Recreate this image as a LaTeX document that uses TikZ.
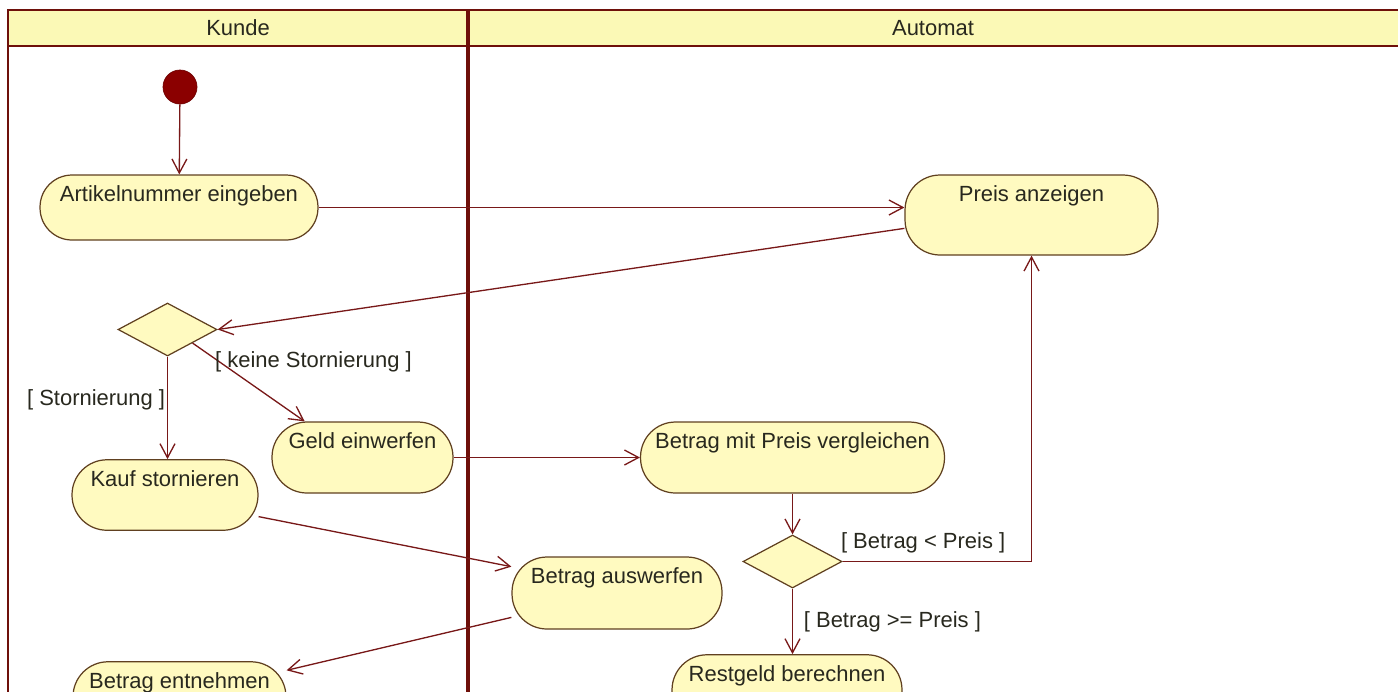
\documentclass[tikz,border=0pt]{standalone}
\usepackage{fontspec}
\setmainfont{Liberation Sans}
\usetikzlibrary{shapes.geometric,arrows.meta}
\definecolor{gelb}{RGB}{255,250,192}
\definecolor{kopfgelb}{RGB}{251,249,182}
\definecolor{rand}{RGB}{96,64,32}
\definecolor{linie}{RGB}{120,24,24}
\definecolor{bahnrot}{RGB}{110,16,10}
\definecolor{punkt}{RGB}{139,0,0}
\definecolor{schrift}{RGB}{40,40,30}
\begin{document}
\begin{tikzpicture}[x=0.02cm, y=-0.02cm,
    every node/.style={font=\fontsize{12.5}{15}\selectfont, text=schrift},
    aktion/.style={rectangle, rounded corners=0.7cm, draw=rand, fill=gelb,
        line width=0.7pt, inner xsep=0pt, inner ysep=0pt,
        text height=0.53cm, text depth=0.88cm},
    raute/.style={diamond, draw=rand, fill=gelb, line width=0.7pt,
        inner sep=0pt, minimum width=1.98cm, minimum height=1.06cm},
    anfang/.style={circle, fill=punkt, draw=punkt!80!black,
        minimum size=0.68cm, inner sep=0pt},
    pfeil/.style={draw=linie, line width=0.75pt,
        -{Straight Barb[length=8pt,width=8.5pt]}},
    waechter/.style={inner sep=1pt},
    bahn/.style={draw=bahnrot, line width=1.6pt},
    ]
    \useasboundingbox (0,0) rectangle (1398,691);
    \clip (0,0) rectangle (1398,691);
    % swimlanes
    \fill[kopfgelb] (8,10) rectangle (1410,46);
    \draw[bahn] (1410,10) -- (8,10) -- (8,700);
    \draw[bahn] (8,46) -- (1410,46);
    \draw[bahn, line width=2.4pt] (468,10) -- (468,700);
    \node (kunde) at (238,28) {Kunde};
    \node (automat) at (933,28) {Automat};
    % activities
    \node[anfang] (start) at (180,87) {};
    \node[aktion, minimum width=5.56cm, text depth=0.77cm, rounded corners=0.64cm] (artikel) at (179,207.5) {Artikelnummer eingeben};
    \node[aktion, minimum width=5.06cm, text depth=1.07cm] (preis) at (1031.5,215) {Preis anzeigen};
    \node[raute] (d1) at (167.5,329.5) {};
    \node[aktion, minimum width=3.72cm] (kauf) at (165,495) {Kauf stornieren};
    \node[aktion, minimum width=3.62cm, text depth=0.89cm] (geld) at (362.5,457.5) {Geld einwerfen};
    \node[aktion, minimum width=6.08cm, text depth=0.89cm] (vergl) at (792.5,457.5) {Betrag mit Preis vergleichen};
    \node[raute] (d2) at (792.5,561.5) {};
    \node[aktion, minimum width=4.2cm, text depth=0.91cm] (ausw) at (617,593) {Betrag auswerfen};
    \node[aktion, minimum width=4.26cm] (entn) at (179.5,697) {Betrag entnehmen};
    \node[aktion, minimum width=4.6cm] (rest) at (787,690) {Restgeld berechnen};
    % flows
    \draw[pfeil] (start) -- (artikel);
    \draw[pfeil] (artikel.east) -- (artikel.east -| preis.west);
    \draw[pfeil] (preis.186) -- (d1.east);
    \draw[pfeil] (d1.south) -- node[waechter, left, pos=0.42] {[ Stornierung ]} (d1.south |- kauf.north);
    \draw[pfeil] (d1.south east) -- node[waechter, anchor=west, pos=0.18, yshift=-0.1cm] {[ keine Stornierung ]} (geld.148);
    \draw[pfeil] (geld.east) -- (vergl.west);
    \draw[pfeil] (vergl.south) -- (d2.north);
    \draw[pfeil] (d2.east) -- node[waechter, anchor=south west, pos=0, xshift=-0.08cm, yshift=0.12cm] {[ Betrag < Preis ]} (d2.east -| preis.south) -- (preis.south);
    \draw[pfeil] (d2.south) -- node[waechter, right, xshift=0.18cm] {[ Betrag >= Preis ]} (d2.south |- rest.north);
    \draw[pfeil] (kauf.-13) -- (ausw.166);
    \draw[pfeil] (ausw.193) -- (entn.14);
\end{tikzpicture}
\end{document}
